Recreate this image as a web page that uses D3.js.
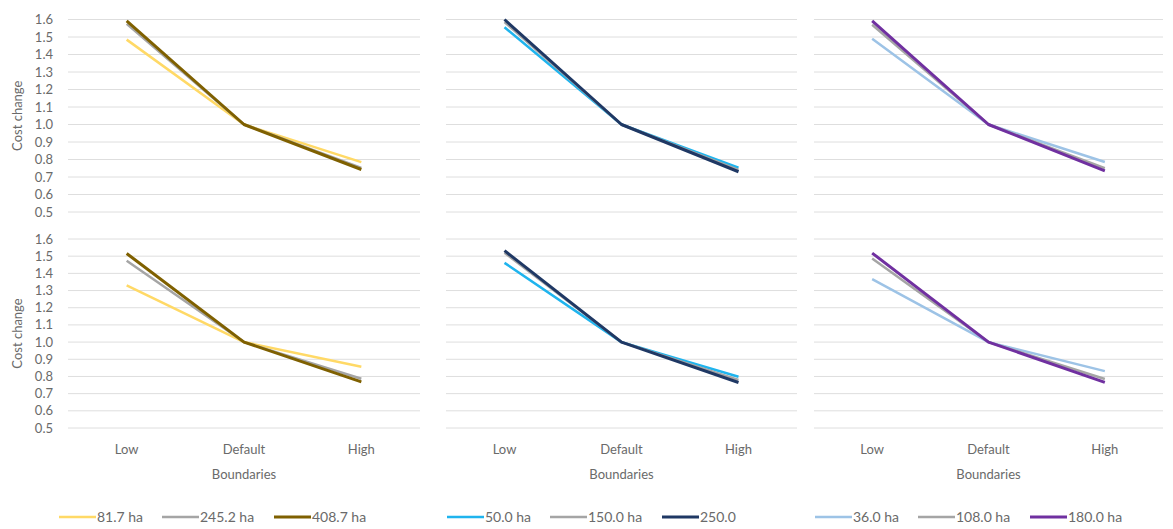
<!DOCTYPE html>
<html>
<head>
<meta charset="utf-8">
<script src="https://cdn.jsdelivr.net/npm/d3@7"></script>
<style>
  body { margin: 0; background: #fff; }
  text { font-family: Lato, "Open Sans", sans-serif; fill: #6a6a6a; }
</style>
</head>
<body>
<div id="chart"></div>
<script>
// categories + tick labels
var categories = ["Low", "Default", "High"];
var yTicks = [0.5, 0.6, 0.7, 0.8, 0.9, 1.0, 1.1, 1.2, 1.3, 1.4, 1.5, 1.6];

// series names per column
var goldNames = ["81.7 ha", "245.2 ha", "408.7 ha"];
var blueNames = ["50.0 ha", "150.0 ha", "250.0"];
var purpleNames = ["36.0 ha", "108.0 ha", "180.0 ha"];

// values (Low, Default, High), top row then bottom row
var goldTop = [[1.485, 1.0, 0.785], [1.575, 1.0, 0.752], [1.592, 1.0, 0.743]];
var goldBottom = [[1.330, 1.0, 0.857], [1.473, 1.0, 0.787], [1.516, 1.0, 0.768]];
var blueTop = [[1.556, 1.0, 0.753], [1.585, 1.0, 0.740], [1.600, 1.0, 0.730]];
var blueBottom = [[1.461, 1.0, 0.798], [1.520, 1.0, 0.780], [1.532, 1.0, 0.765]];
var purpleTop = [[1.490, 1.0, 0.786], [1.570, 1.0, 0.750], [1.592, 1.0, 0.735]];
var purpleBottom = [[1.367, 1.0, 0.831], [1.486, 1.0, 0.785], [1.518, 1.0, 0.766]];

var goldColors = ["#FFD966", "#A5A5A5", "#7F6000"];
var blueColors = ["#1FB4EE", "#A5A5A5", "#1F3864"];
var purpleColors = ["#9DC3E6", "#A5A5A5", "#7030A0"];
var widths = [2.5, 2.5, 3];

var w = 1173, h = 529;
var svg = d3.select("#chart").append("svg").attr("width", w).attr("height", h);

var columns = [
    { x0: 68, x1: 420, legX: 59, names: goldNames, colors: goldColors, rows: [goldTop, goldBottom], axis: true },
    { x0: 446, x1: 797, legX: 447, names: blueNames, colors: blueColors, rows: [blueTop, blueBottom], axis: false },
    { x0: 814, x1: 1163, legX: 815, names: purpleNames, colors: purpleColors, rows: [purpleTop, purpleBottom], axis: false }
];
var rowRanges = [[212, 19.5], [428, 239]];
var legendOffsets = [0, 103, 215];

columns.forEach(col => {
    const x = d3.scalePoint().domain(categories).range([col.x0, col.x1]).padding(0.5);

    col.rows.forEach((rowData, ri) => {
        const y = d3.scaleLinear().domain([0.5, 1.6]).range(rowRanges[ri]);
        const g = svg.append("g");

        // gridlines
        g.selectAll("line.grid")
            .data(yTicks)
            .enter()
            .append("line")
            .attr("x1", col.x0)
            .attr("x2", col.x1)
            .attr("y1", d => y(d))
            .attr("y2", d => y(d))
            .attr("stroke", "#dedede")
            .attr("stroke-width", 1);

        if (col.axis) {
            g.selectAll("text.tick")
                .data(yTicks)
                .enter()
                .append("text")
                .attr("x", 53)
                .attr("y", d => y(d))
                .attr("dy", "0.35em")
                .attr("text-anchor", "end")
                .style("font-size", "13px")
                .text(d => d3.format(".1f")(d));

            const mid = (rowRanges[ri][0] + rowRanges[ri][1]) / 2;
            g.append("text")
                .attr("transform", `translate(22,${mid}) rotate(-90)`)
                .attr("text-anchor", "middle")
                .style("font-size", "13px")
                .text("Cost change");
        }

        const line = d3.line()
            .x((d, i) => x(categories[i]))
            .y(d => y(d));

        g.selectAll("path.series")
            .data(rowData)
            .enter()
            .append("path")
            .attr("d", d => line(d))
            .attr("fill", "none")
            .attr("stroke", (d, i) => col.colors[i])
            .attr("stroke-width", (d, i) => widths[i])
            .attr("stroke-linejoin", "round");

        if (ri === 1) {
            g.selectAll("text.cat")
                .data(categories)
                .enter()
                .append("text")
                .attr("x", d => x(d))
                .attr("y", 454)
                .attr("text-anchor", "middle")
                .style("font-size", "13px")
                .text(d => d);

            g.append("text")
                .attr("x", x("Default"))
                .attr("y", 479)
                .attr("text-anchor", "middle")
                .style("font-size", "13px")
                .text("Boundaries");
        }
    });

    // legend
    const leg = svg.append("g").attr("transform", `translate(${col.legX},517)`);
    col.names.forEach((name, i) => {
        const lx = legendOffsets[i];
        leg.append("line")
            .attr("x1", lx)
            .attr("x2", lx + 37)
            .attr("y1", 0)
            .attr("y2", 0)
            .attr("stroke", col.colors[i])
            .attr("stroke-width", widths[i]);
        leg.append("text")
            .attr("x", lx + 38)
            .attr("y", 0)
            .attr("dy", "0.35em")
            .style("font-size", "14px")
            .text(name);
    });
});
</script>
</body>
</html>
